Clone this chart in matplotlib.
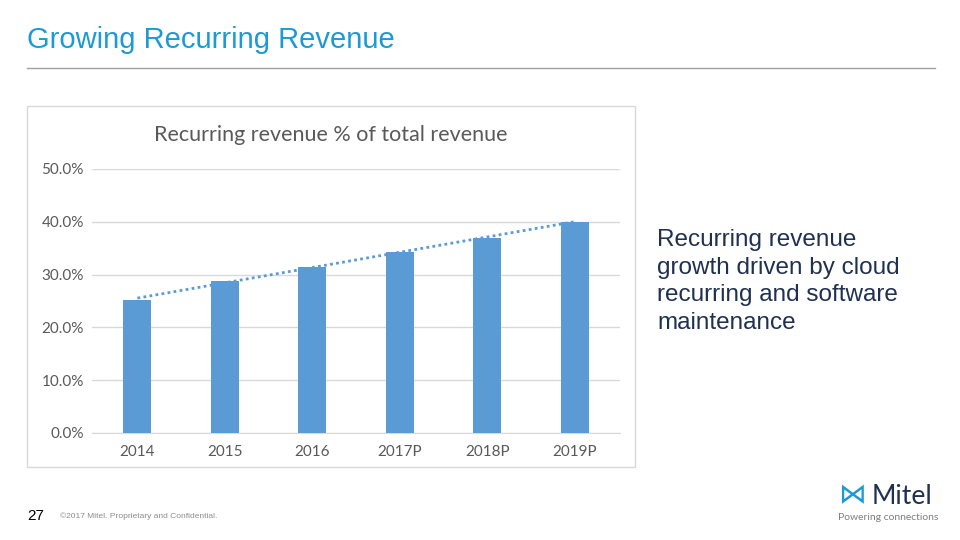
import numpy as np
import matplotlib
matplotlib.use('Agg')
import matplotlib.pyplot as plt
from matplotlib.patches import Rectangle
from matplotlib.lines import Line2D
from matplotlib.ticker import FuncFormatter

# data
years = ['2014', '2015', '2016', '2017P', '2018P', '2019P']
share = [0.252, 0.288, 0.315, 0.342, 0.370, 0.400]
yticks = [0.0, 0.1, 0.2, 0.3, 0.4, 0.5]
bullet = ['Recurring revenue', 'growth driven by cloud',
          'recurring and software', 'maintenance']

W, H = 960, 540
fig = plt.figure(figsize=(9.6, 5.4), dpi=100)
fig.patch.set_facecolor('white')

def fx(px):
    return px / W

def fy(py):
    return 1 - py / H

# slide title + rule
fig.text(fx(27), fy(48), 'Growing Recurring Revenue', color='#1C9AD6',
         fontsize=21, family='Liberation Sans', va='baseline')
fig.add_artist(Line2D([fx(27), fx(935)], [fy(68), fy(68)], color='#A0A0A0', lw=1))

# chart frame
fig.add_artist(Rectangle((fx(27), fy(467)), fx(635 - 27), (467 - 106) / H,
                         transform=fig.transFigure, fill=False,
                         edgecolor='#D9D9D9', lw=1))
fig.text(fx(331), fy(135), 'Recurring revenue % of total revenue', color='#595959',
         fontsize=15.5, family='Lato', ha='center', va='center')

ax = fig.add_axes([fx(92), fy(433), fx(620 - 92), (433 - 169) / H])
x = np.arange(len(years))
ax.bar(x, share, width=0.32, color='#5B9BD5', zorder=3)

# linear trendline like excel
k, b = np.polyfit(x, share, 1)
ax.plot(x, k * x + b, color='#5B9BD5', lw=2, ls=(0, (1, 1.2)), zorder=4)

ax.set_xlim(-0.52, len(years) - 0.48)
ax.set_ylim(0, 0.5)
ax.set_yticks(yticks)
ax.yaxis.set_major_formatter(FuncFormatter(lambda v, p: '%.1f%%' % (v * 100)))
ax.set_xticks(x)
ax.set_xticklabels(years)
ax.grid(axis='y', color='#D9D9D9', lw=1, zorder=0)
for s in ['top', 'right', 'left']:
    ax.spines[s].set_visible(False)
ax.spines['bottom'].set_color('#D9D9D9')
ax.tick_params(length=0, colors='#595959', labelsize=11)
ax.tick_params(axis='x', pad=9)
ax.tick_params(axis='y', pad=6)
for lab in ax.get_xticklabels() + ax.get_yticklabels():
    lab.set_family('Lato')

# right hand text
fig.text(fx(657), fy(229), '\n'.join(bullet), color='#1F3050', fontsize=17.5,
         family='Liberation Sans', va='top', linespacing=1.33)

# footer
fig.text(fx(27), fy(520), '27', color='black', fontsize=11,
         family='Liberation Sans', va='baseline')
fig.text(fx(60), fy(518), '\u00a92017 Mitel. Proprietary and Confidential.',
         color='#8C8C8C', fontsize=6, family='Liberation Sans', va='baseline')

# logo
fig.text(fx(838), fy(503), '\u22c8', color='#1C9AD6', fontsize=20,
         family='DejaVu Sans', va='baseline')
fig.text(fx(872), fy(504), 'Mitel', color='#1F3050', fontsize=19,
         family='Lato', va='baseline')
fig.text(fx(838), fy(520), 'Powering connections', color='#7F7F7F', fontsize=7.5,
         family='Lato', va='baseline')

fig.savefig('out.png', dpi=100)
